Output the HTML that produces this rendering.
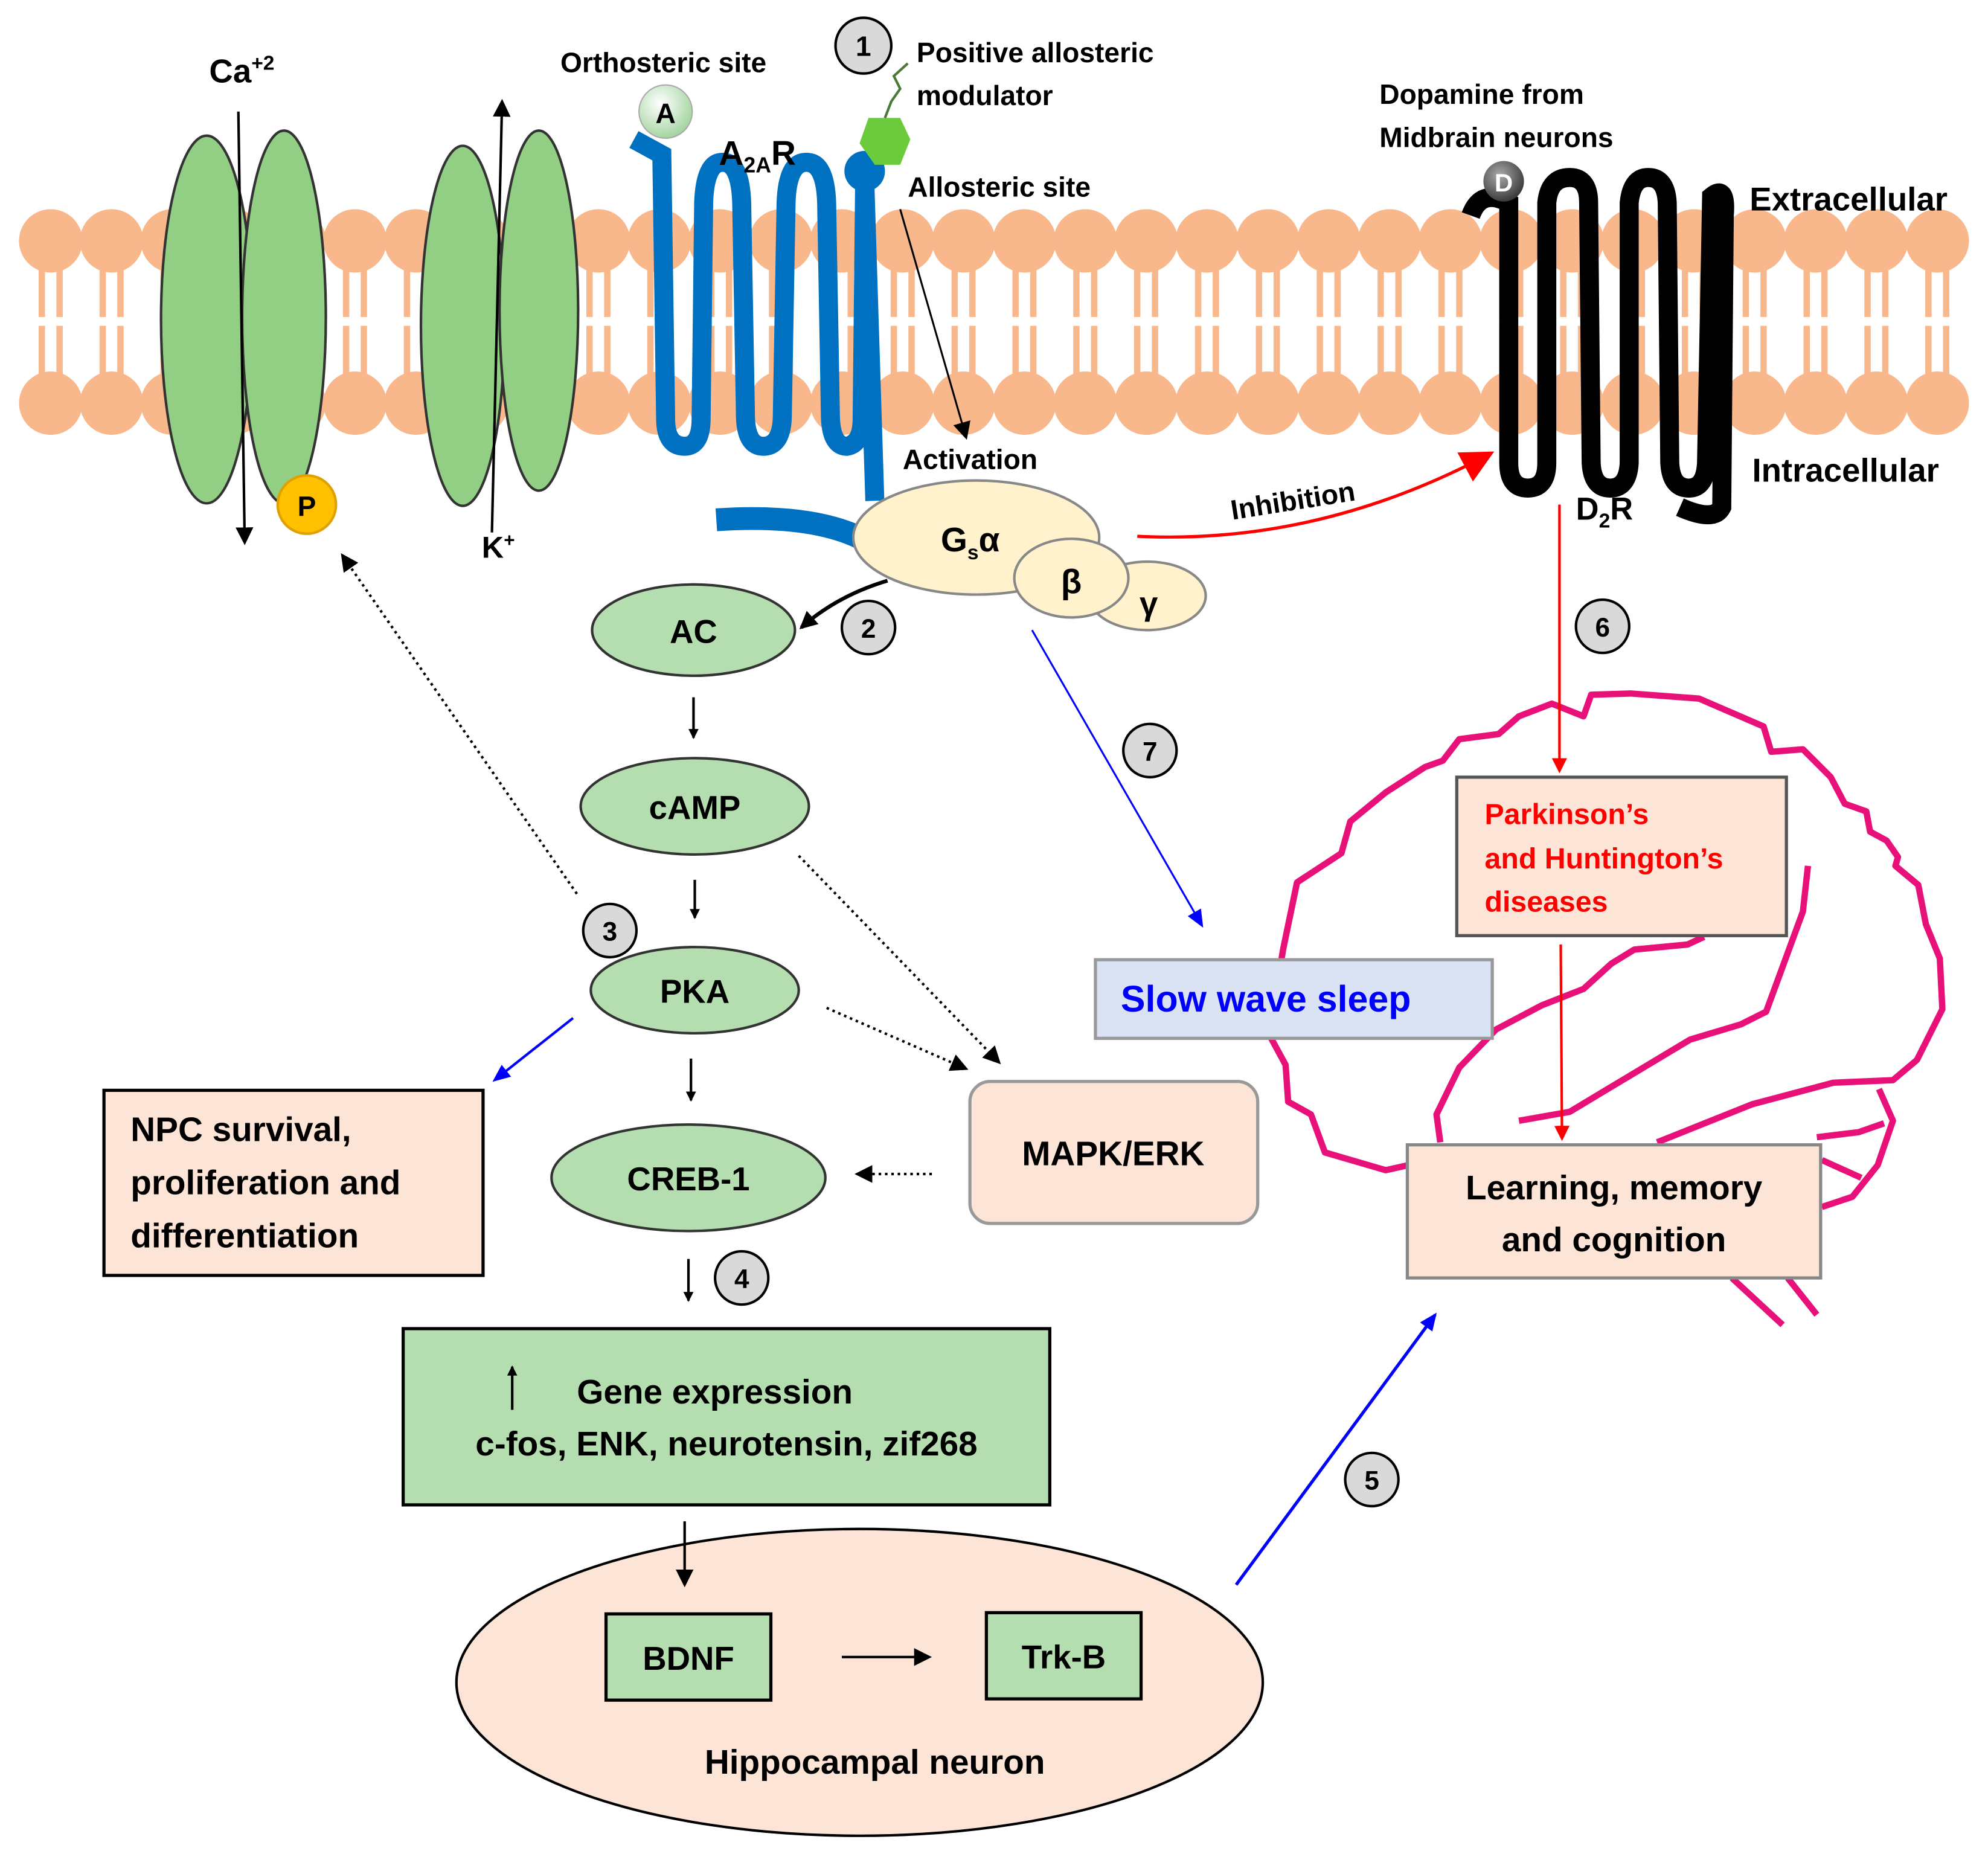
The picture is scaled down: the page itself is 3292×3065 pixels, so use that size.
<!DOCTYPE html>
<html><head><meta charset="utf-8"><style>
html,body{margin:0;padding:0;background:#fff;}
svg{display:block;}
text{font-family:"Liberation Sans",sans-serif;font-weight:bold;}
</style></head><body>
<svg width="3292" height="3065" viewBox="0 0 1568 1460" preserveAspectRatio="none" xmlns="http://www.w3.org/2000/svg">
<defs>
<marker id="ab" markerWidth="8" markerHeight="8" refX="7" refY="4" orient="auto" markerUnits="userSpaceOnUse"><path d="M0,0 L8,4 L0,8 z" fill="#000"/></marker>
<marker id="ab2" markerWidth="14" markerHeight="14" refX="12" refY="7" orient="auto" markerUnits="userSpaceOnUse"><path d="M0,0 L14,7 L0,14 z" fill="#000"/></marker>
<marker id="abl" markerWidth="14" markerHeight="12" refX="12" refY="6" orient="auto" markerUnits="userSpaceOnUse"><path d="M0,0 L14,6 L0,12 z" fill="#00f"/></marker>
<marker id="ar" markerWidth="12" markerHeight="12" refX="10" refY="6" orient="auto" markerUnits="userSpaceOnUse"><path d="M0,0 L12,6 L0,12 z" fill="#f00"/></marker>
<marker id="arb" markerWidth="26" markerHeight="26" refX="22" refY="13" orient="auto" markerUnits="userSpaceOnUse"><path d="M0,0 L26,13 L0,26 z" fill="#f00"/></marker>
<radialGradient id="ga" cx="0.4" cy="0.35" r="0.7"><stop offset="0" stop-color="#fff"/><stop offset="1" stop-color="#9ed29a"/></radialGradient>
<radialGradient id="gd" cx="0.4" cy="0.35" r="0.7"><stop offset="0" stop-color="#aaa"/><stop offset="1" stop-color="#333"/></radialGradient>
</defs>

<g fill="#F8B88B">
<circle cx="40" cy="190" r="25"/><circle cx="88" cy="190" r="25"/><circle cx="136" cy="190" r="25"/><circle cx="184" cy="190" r="25"/><circle cx="232" cy="190" r="25"/><circle cx="280" cy="190" r="25"/><circle cx="328" cy="190" r="25"/><circle cx="376" cy="190" r="25"/><circle cx="424" cy="190" r="25"/><circle cx="472" cy="190" r="25"/><circle cx="520" cy="190" r="25"/><circle cx="568" cy="190" r="25"/><circle cx="616" cy="190" r="25"/><circle cx="664" cy="190" r="25"/><circle cx="712" cy="190" r="25"/><circle cx="760" cy="190" r="25"/><circle cx="808" cy="190" r="25"/><circle cx="856" cy="190" r="25"/><circle cx="904" cy="190" r="25"/><circle cx="952" cy="190" r="25"/><circle cx="1000" cy="190" r="25"/><circle cx="1048" cy="190" r="25"/><circle cx="1096" cy="190" r="25"/><circle cx="1144" cy="190" r="25"/><circle cx="1192" cy="190" r="25"/><circle cx="1240" cy="190" r="25"/><circle cx="1288" cy="190" r="25"/><circle cx="1336" cy="190" r="25"/><circle cx="1384" cy="190" r="25"/><circle cx="1432" cy="190" r="25"/><circle cx="1480" cy="190" r="25"/><circle cx="1528" cy="190" r="25"/>
<circle cx="40" cy="318" r="25"/><circle cx="88" cy="318" r="25"/><circle cx="136" cy="318" r="25"/><circle cx="184" cy="318" r="25"/><circle cx="232" cy="318" r="25"/><circle cx="280" cy="318" r="25"/><circle cx="328" cy="318" r="25"/><circle cx="376" cy="318" r="25"/><circle cx="424" cy="318" r="25"/><circle cx="472" cy="318" r="25"/><circle cx="520" cy="318" r="25"/><circle cx="568" cy="318" r="25"/><circle cx="616" cy="318" r="25"/><circle cx="664" cy="318" r="25"/><circle cx="712" cy="318" r="25"/><circle cx="760" cy="318" r="25"/><circle cx="808" cy="318" r="25"/><circle cx="856" cy="318" r="25"/><circle cx="904" cy="318" r="25"/><circle cx="952" cy="318" r="25"/><circle cx="1000" cy="318" r="25"/><circle cx="1048" cy="318" r="25"/><circle cx="1096" cy="318" r="25"/><circle cx="1144" cy="318" r="25"/><circle cx="1192" cy="318" r="25"/><circle cx="1240" cy="318" r="25"/><circle cx="1288" cy="318" r="25"/><circle cx="1336" cy="318" r="25"/><circle cx="1384" cy="318" r="25"/><circle cx="1432" cy="318" r="25"/><circle cx="1480" cy="318" r="25"/><circle cx="1528" cy="318" r="25"/>
</g>
<g stroke="#F8B88B" stroke-width="5">
<path d="M33,212V250M47,212V250M81,212V250M95,212V250M129,212V250M143,212V250M177,212V250M191,212V250M225,212V250M239,212V250M273,212V250M287,212V250M321,212V250M335,212V250M369,212V250M383,212V250M417,212V250M431,212V250M465,212V250M479,212V250M513,212V250M527,212V250M561,212V250M575,212V250M609,212V250M623,212V250M657,212V250M671,212V250M705,212V250M719,212V250M753,212V250M767,212V250M801,212V250M815,212V250M849,212V250M863,212V250M897,212V250M911,212V250M945,212V250M959,212V250M993,212V250M1007,212V250M1041,212V250M1055,212V250M1089,212V250M1103,212V250M1137,212V250M1151,212V250M1185,212V250M1199,212V250M1233,212V250M1247,212V250M1281,212V250M1295,212V250M1329,212V250M1343,212V250M1377,212V250M1391,212V250M1425,212V250M1439,212V250M1473,212V250M1487,212V250M1521,212V250M1535,212V250"/>
<path d="M33,257V296M47,257V296M81,257V296M95,257V296M129,257V296M143,257V296M177,257V296M191,257V296M225,257V296M239,257V296M273,257V296M287,257V296M321,257V296M335,257V296M369,257V296M383,257V296M417,257V296M431,257V296M465,257V296M479,257V296M513,257V296M527,257V296M561,257V296M575,257V296M609,257V296M623,257V296M657,257V296M671,257V296M705,257V296M719,257V296M753,257V296M767,257V296M801,257V296M815,257V296M849,257V296M863,257V296M897,257V296M911,257V296M945,257V296M959,257V296M993,257V296M1007,257V296M1041,257V296M1055,257V296M1089,257V296M1103,257V296M1137,257V296M1151,257V296M1185,257V296M1199,257V296M1233,257V296M1247,257V296M1281,257V296M1295,257V296M1329,257V296M1343,257V296M1377,257V296M1391,257V296M1425,257V296M1439,257V296M1473,257V296M1487,257V296M1521,257V296M1535,257V296"/>
</g>

<g fill="#93CE85" stroke="#333" stroke-width="2">
<ellipse cx="163" cy="252" rx="36" ry="145"/>
<ellipse cx="224" cy="250" rx="33" ry="147"/>
<ellipse cx="365" cy="257" rx="33" ry="142"/>
<ellipse cx="425" cy="245" rx="31" ry="142"/>
</g>
<line x1="188" y1="88" x2="193" y2="428" stroke="#000" stroke-width="2" marker-end="url(#ab2)"/>
<line x1="388" y1="420" x2="396" y2="80" stroke="#000" stroke-width="2" marker-end="url(#ab2)"/>
<circle cx="242" cy="398" r="23" fill="#FFC000" stroke="#E0A000" stroke-width="2"/>
<text x="242" y="407" font-size="22" text-anchor="middle" font-weight="normal">P</text>
<text x="165" y="65" font-size="26">Ca<tspan font-size="16" dy="-10">+2</tspan></text>
<text x="380" y="440" font-size="24">K<tspan font-size="15" dy="-9">+</tspan></text>

<path d="M500,110 L522,122 L525,330 Q525,352 540,352 Q553,352 553,330 L555,160 Q556,128 570,128 Q584,128 585,160 L588,330 Q589,352 602,352 Q616,352 617,330 L620,160 Q621,128 636,128 Q651,128 652,160 L655,330 Q656,352 668,352 Q680,350 680,330 L682,140 L690,395" fill="none" stroke="#0070C0" stroke-width="15"/>
<circle cx="682" cy="135" r="16" fill="#0070C0"/>
<path d="M565,410 Q640,405 680,425" fill="none" stroke="#0070C0" stroke-width="18"/>
<polygon points="685,93 710,93 718,110 710,130 690,130 678,113" fill="#6BCB3C"/>
<path d="M698,93 L703,80 L710,70 L705,60 L716,50" fill="none" stroke="#4a7a3a" stroke-width="2"/>
<circle cx="525" cy="88" r="21" fill="url(#ga)" stroke="#aaa"/>
<text x="525" y="97" font-size="22" text-anchor="middle">A</text>
<text x="567" y="130" font-size="27">A<tspan font-size="17" dy="6">2A</tspan><tspan dy="-6">R</tspan></text>
<text x="442" y="57" font-size="22">Orthosteric site</text>
<circle cx="681" cy="36" r="22" fill="#D9D9D9" stroke="#000" stroke-width="2"/>
<text x="681" y="44" font-size="22" text-anchor="middle">1</text>
<text x="723" y="49" font-size="22">Positive allosteric</text>
<text x="723" y="83" font-size="22">modulator</text>
<text x="716" y="155" font-size="22">Allosteric site</text>
<line x1="710" y1="165" x2="762" y2="345" stroke="#000" stroke-width="1.5" marker-end="url(#ab2)"/>
<text x="712" y="370" font-size="22">Activation</text>

<path d="M1160,170 Q1168,148 1190,160 L1190,365 Q1190,385 1205,385 Q1220,385 1220,365 L1220,160 Q1222,140 1238,140 Q1253,140 1253,160 L1255,365 Q1256,385 1270,385 Q1284,385 1285,365 L1285,160 Q1287,140 1300,140 Q1314,140 1315,160 L1317,365 Q1318,385 1332,385 Q1345,385 1346,365 L1350,155 Q1362,145 1360,170 L1358,400 Q1352,412 1325,400" fill="none" stroke="#000" stroke-width="15"/>
<circle cx="1186" cy="143" r="16" fill="url(#gd)"/>
<text x="1186" y="151" font-size="20" fill="#fff" text-anchor="middle">D</text>
<text x="1088" y="82" font-size="22">Dopamine from</text>
<text x="1088" y="116" font-size="22">Midbrain neurons</text>
<text x="1380" y="166" font-size="26">Extracellular</text>
<text x="1382" y="380" font-size="26">Intracellular</text>
<text x="1243" y="410" font-size="25">D<tspan font-size="16" dy="6">2</tspan><tspan dy="-6">R</tspan></text>

<ellipse cx="905" cy="470" rx="46" ry="27" fill="#FFF2CC" stroke="#888" stroke-width="2"/>
<ellipse cx="770" cy="424" rx="97" ry="45" fill="#FFF2CC" stroke="#888" stroke-width="2"/>
<ellipse cx="845" cy="456" rx="45" ry="31" fill="#FFF2CC" stroke="#888" stroke-width="2"/>
<text x="742" y="435" font-size="27" font-weight="normal">G<tspan font-size="16" dy="6">s</tspan><tspan dy="-6">α</tspan></text>
<text x="845" y="468" font-size="27" text-anchor="middle" font-weight="normal">β</text>
<text x="906" y="485" font-size="26" text-anchor="middle" font-weight="normal">γ</text>
<path d="M897,423 Q1040,430 1175,358" fill="none" stroke="#f00" stroke-width="2.5" marker-end="url(#arb)"/>
<text x="972" y="410" font-size="22" transform="rotate(-9 972 410)">Inhibition</text>

<!-- brain -->
<g fill="none" stroke="#E8117A" stroke-width="5" stroke-linejoin="round">
<path d="M1111,919 L1093,923 L1045,909 L1034,879 L1016,869 L1014,840 L1001,816 L1012,749 L1023,696 L1058,673 L1065,648 L1093,625 L1124,605 L1138,600 L1151,583 L1182,579 L1198,565 L1224,555 L1249,565 L1255,548 L1286,547 L1340,551 L1391,573 L1397,593 L1422,591 L1444,613 L1455,634 L1472,640 L1475,656 L1488,663 L1497,676 L1495,683 L1513,698 L1519,729 L1530,756 L1532,796 L1512,836 L1493,852 L1446,854 L1382,871 L1307,901"/>
<path d="M1426,683 L1422,719 L1393,798 L1373,808 L1333,820 L1238,877 L1198,884"/>
<path d="M1344,739 L1331,745 L1289,749 L1271,760 L1249,780 L1216,793 L1180,812 L1151,842 L1133,879 L1136,901"/>
<path d="M1482,859 L1493,884 L1481,919 L1461,944 L1437,952"/>
<path d="M1486,886 L1466,893 L1433,897"/>
<path d="M1437,915 L1468,929"/>
<path d="M1366,1008 L1406,1045 M1410,1008 L1433,1037"/>
</g>

<g fill="#B5DEB0" stroke="#333" stroke-width="2">
<ellipse cx="547" cy="497" rx="80" ry="36"/>
<ellipse cx="548" cy="636" rx="90" ry="38"/>
<ellipse cx="548" cy="781" rx="82" ry="34"/>
<ellipse cx="543" cy="929" rx="108" ry="42"/>
</g>
<g font-size="26" text-anchor="middle">
<text x="547" y="507">AC</text>
<text x="548" y="646">cAMP</text>
<text x="548" y="791">PKA</text>
<text x="543" y="939">CREB-1</text>
</g>
<path d="M700,458 Q660,470 632,495" fill="none" stroke="#000" stroke-width="3" marker-end="url(#ab2)"/>
<g stroke="#000" stroke-width="2">
<line x1="547" y1="550" x2="547" y2="582" marker-end="url(#ab)"/>
<line x1="548" y1="694" x2="548" y2="724" marker-end="url(#ab)"/>
<line x1="545" y1="835" x2="545" y2="868" marker-end="url(#ab)"/>
<line x1="543" y1="993" x2="543" y2="1026" marker-end="url(#ab)"/>
</g>
<g stroke="#000" stroke-width="2" stroke-dasharray="2,3" fill="none">
<line x1="455" y1="705" x2="270" y2="438" marker-end="url(#ab2)"/>
<line x1="630" y1="675" x2="788" y2="838" marker-end="url(#ab2)"/>
<line x1="652" y1="795" x2="762" y2="843" marker-end="url(#ab2)"/>
<line x1="735" y1="926" x2="676" y2="926" marker-end="url(#ab2)"/>
</g>
<line x1="452" y1="803" x2="390" y2="852" stroke="#00f" stroke-width="2" marker-end="url(#abl)"/>
<line x1="814" y1="497" x2="948" y2="730" stroke="#00f" stroke-width="1.5" marker-end="url(#abl)"/>
<line x1="975" y1="1250" x2="1132" y2="1037" stroke="#00f" stroke-width="2.5" marker-end="url(#abl)"/>
<line x1="1230" y1="398" x2="1230" y2="608" stroke="#f00" stroke-width="2" marker-end="url(#ar)"/>
<line x1="1231" y1="745" x2="1232" y2="898" stroke="#f00" stroke-width="2" marker-end="url(#ar)"/>

<rect x="82" y="860" width="299" height="146" fill="#FCE4D6" stroke="#000" stroke-width="2.5"/>
<text x="103" y="900" font-size="27">NPC survival,</text>
<text x="103" y="942" font-size="27">proliferation and</text>
<text x="103" y="984" font-size="27">differentiation</text>
<rect x="765" y="853" width="227" height="112" rx="16" fill="#FCE4D6" stroke="#999" stroke-width="2.5"/>
<text x="878" y="919" font-size="27" text-anchor="middle">MAPK/ERK</text>
<rect x="318" y="1048" width="510" height="139" fill="#B5DEB0" stroke="#000" stroke-width="2.5"/>
<line x1="404" y1="1112" x2="404" y2="1078" stroke="#000" stroke-width="2" marker-end="url(#ab)"/>
<text x="455" y="1107" font-size="27">Gene expression</text>
<text x="573" y="1148" font-size="27" text-anchor="middle">c-fos, ENK, neurotensin, zif268</text>
<ellipse cx="678" cy="1327" rx="318" ry="121" fill="#FCE4D6" stroke="#000" stroke-width="2"/>
<line x1="540" y1="1200" x2="540" y2="1250" stroke="#000" stroke-width="2" marker-end="url(#ab2)"/>
<line x1="664" y1="1307" x2="733" y2="1307" stroke="#000" stroke-width="2" marker-end="url(#ab2)"/>
<rect x="478" y="1273" width="130" height="68" fill="#B5DEB0" stroke="#000" stroke-width="2.5"/>
<text x="543" y="1317" font-size="26" text-anchor="middle">BDNF</text>
<rect x="778" y="1272" width="122" height="68" fill="#B5DEB0" stroke="#000" stroke-width="2.5"/>
<text x="839" y="1316" font-size="26" text-anchor="middle">Trk-B</text>
<text x="690" y="1399" font-size="27" text-anchor="middle">Hippocampal neuron</text>
<rect x="864" y="757" width="313" height="62" fill="#DAE3F3" stroke="#999" stroke-width="2.5"/>
<text x="884" y="798" font-size="29" fill="#0000FF">Slow wave sleep</text>
<rect x="1149" y="613" width="260" height="125" fill="#FCE4D6" stroke="#555" stroke-width="2.5"/>
<text x="1171" y="650" font-size="23" fill="#f00">Parkinson’s</text>
<text x="1171" y="685" font-size="23" fill="#f00">and Huntington’s</text>
<text x="1171" y="719" font-size="23" fill="#f00">diseases</text>
<rect x="1110" y="903" width="326" height="105" fill="#FCE4D6" stroke="#888" stroke-width="2.5"/>
<text x="1273" y="946" font-size="27" text-anchor="middle">Learning, memory</text>
<text x="1273" y="987" font-size="27" text-anchor="middle">and cognition</text>

<g fill="#D9D9D9" stroke="#000" stroke-width="2">
<circle cx="685" cy="495" r="21"/><circle cx="481" cy="734" r="21"/><circle cx="585" cy="1008" r="21"/><circle cx="1082" cy="1167" r="21"/><circle cx="1264" cy="494" r="21"/><circle cx="907" cy="592" r="21"/>
</g>
<g font-size="21" text-anchor="middle">
<text x="685" y="503">2</text><text x="481" y="742">3</text><text x="585" y="1016">4</text><text x="1082" y="1175">5</text><text x="1264" y="502">6</text><text x="907" y="600">7</text>
</g>
</svg>
</body></html>
